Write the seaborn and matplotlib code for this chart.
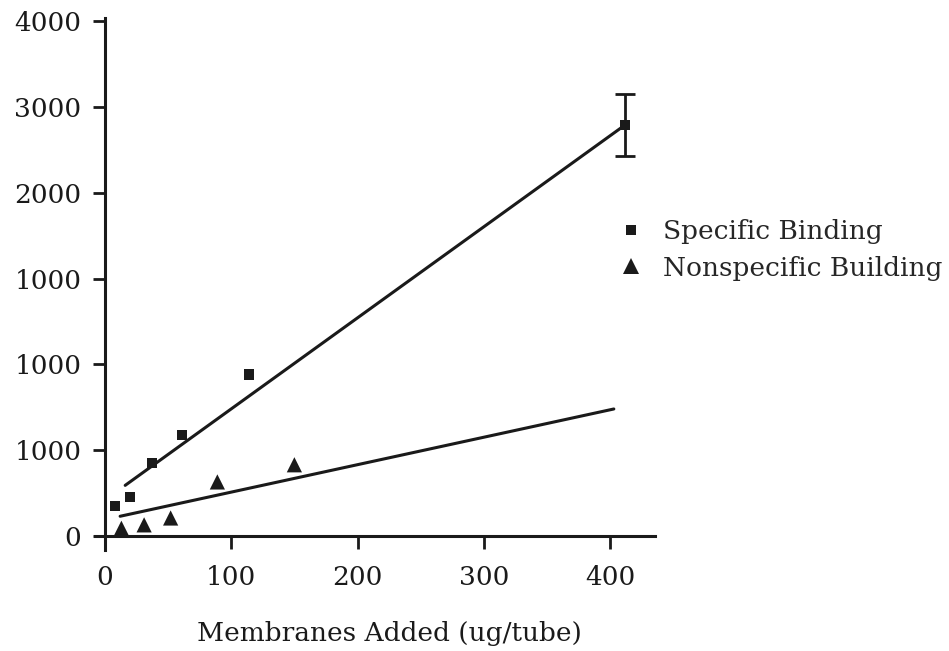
import numpy as np
import pandas as pd
import seaborn as sns
import matplotlib.pyplot as plt

# values (y in tick units x1000, labels are as printed)
spec_x = [8, 20, 37, 61, 114, 412]
spec_y = [350, 455, 850, 1180, 1880, 4790]
spec_err = 360
nonspec_x = [13, 31, 52, 89, 150]
nonspec_y = [90, 130, 210, 630, 830]
spec_fit_x = [16, 412]
spec_fit_y = [590, 4790]
nonspec_fit_x = [12, 403]
nonspec_fit_y = [230, 1480]
y_ticks = [0, 1000, 2000, 3000, 4000, 5000, 6000]
y_labels = ["0", "1000", "1000", "1000", "2000", "3000", "4000"]
x_ticks = [0, 100, 200, 300, 400]

sns.set_style("ticks")
plt.rcParams['font.family'] = ['DejaVu Serif']
ink = '#1a1a1a'

df = pd.DataFrame({
    'x': spec_x + nonspec_x,
    'y': spec_y + nonspec_y,
    'series': ['Specific Binding'] * len(spec_x) + ['Nonspecific Building'] * len(nonspec_x),
})

fig = plt.figure(figsize=(9.49, 6.51), dpi=100)
ax = fig.add_axes([95 / 949, 1 - 550 / 651, (655 - 95) / 949, (550 - 18) / 651])

sns.lineplot(x=spec_fit_x, y=spec_fit_y, color=ink, lw=2.2, ax=ax)
sns.lineplot(x=nonspec_fit_x, y=nonspec_fit_y, color=ink, lw=2.2, ax=ax)
ax.errorbar(spec_x[-1], spec_y[-1], yerr=spec_err, fmt='none', ecolor=ink,
            elinewidth=2, capsize=7, capthick=2)

sns.scatterplot(data=df, x='x', y='y', style='series', hue='series',
                palette={'Specific Binding': ink, 'Nonspecific Building': ink},
                markers={'Specific Binding': 's', 'Nonspecific Building': '^'},
                size='series', sizes={'Specific Binding': 55, 'Nonspecific Building': 120},
                edgecolor=ink, linewidth=0, ax=ax, zorder=3)

ax.set_xlim(-7.9, 435.6)
ax.set_ylim(-163, 6035)
ax.spines['left'].set_position(('data', 0))
ax.spines['bottom'].set_position(('data', 0))
ax.spines['top'].set_visible(False)
ax.spines['right'].set_visible(False)
for s in ['left', 'bottom']:
    ax.spines[s].set_linewidth(2.2)
    ax.spines[s].set_color(ink)

ax.set_xticks(x_ticks)
ax.set_yticks(y_ticks)
ax.set_yticklabels(y_labels)
ax.tick_params(axis='both', direction='out', length=9, width=2, colors=ink,
               labelsize=19)
ax.tick_params(axis='x', pad=12)
ax.tick_params(axis='y', pad=8)
ax.set_xlabel('Membranes Added (ug/tube)', fontsize=19, color=ink, labelpad=22)
ax.xaxis.label.set_x(0.525)
ax.set_ylabel('')

handles, labels = ax.get_legend_handles_labels()
ax.legend(handles, labels, loc='upper left', bbox_to_anchor=(581 / 949, 1 - 195 / 651),
          bbox_transform=fig.transFigure, frameon=False, fontsize=19,
          handletextpad=0.2, labelspacing=0.45, markerscale=1.0)

fig.savefig('out.png', dpi=100)
